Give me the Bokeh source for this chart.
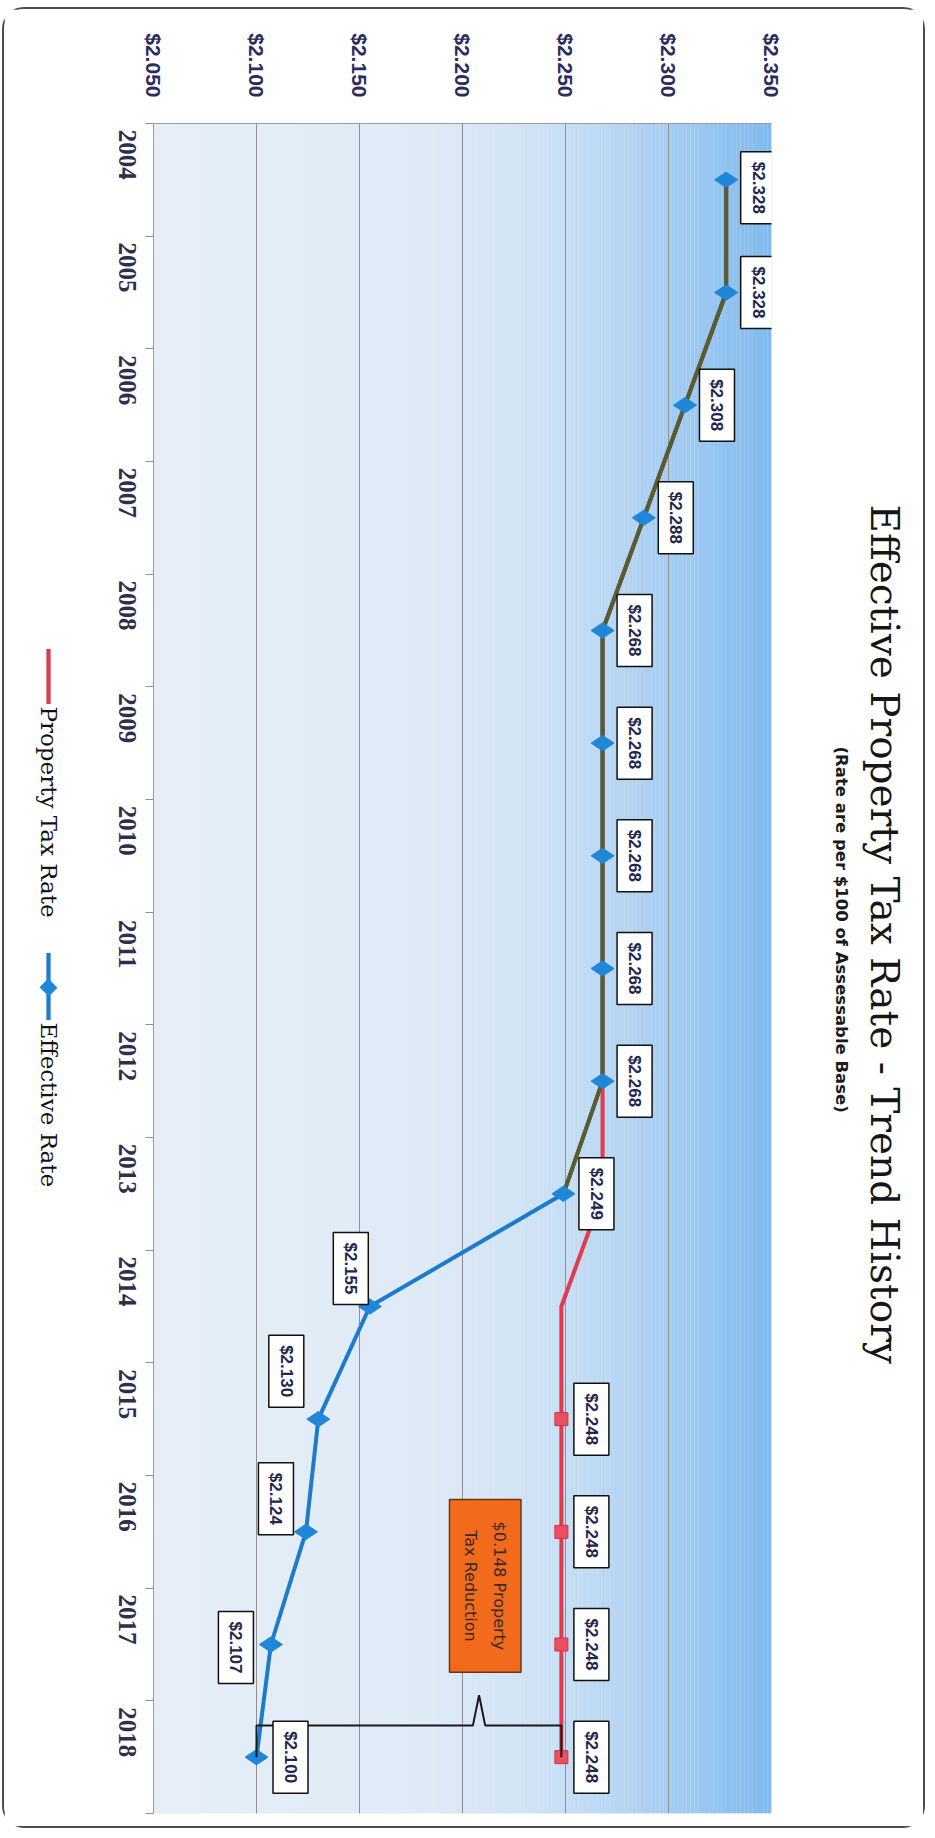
from math import pi

from bokeh.core.properties import value
from bokeh.embed import file_html
from bokeh.models import (ColumnDataSource, FixedTicker, Label,
                          NumeralTickFormatter, Range1d)
from bokeh.plotting import figure
from bokeh.resources import INLINE

# ---- data -------------------------------------------------------------
years = [2004, 2005, 2006, 2007, 2008, 2009, 2010, 2011, 2012, 2013,
         2014, 2015, 2016, 2017, 2018]
property_tax_rate = [2.328, 2.328, 2.308, 2.288, 2.268, 2.268, 2.268, 2.268,
                     2.268, 2.268, 2.248, 2.248, 2.248, 2.248, 2.248]
effective_rate = [2.328, 2.328, 2.308, 2.288, 2.268, 2.268, 2.268, 2.268,
                  2.268, 2.249, 2.155, 2.130, 2.124, 2.107, 2.100]
value_ticks = [2.05, 2.10, 2.15, 2.20, 2.25, 2.30, 2.35]
rate_marked_years = [2015, 2016, 2017, 2018]

# ---- styling ----------------------------------------------------------
BLUE = "#1d7bcd"
OLIVE = "#5d5c28"
RED = "#e23a4f"
NAVY = "#23254f"
olive_until = 2013
# label box offsets (screen px) from each point
eff_dx = [32, 32, 32, 32, 32, 32, 32, 32, 32, 33, -19, -32, -30, -35, 34]
eff_dy = [8, 0, 0, 0, 0, 0, 0, 0, 0, 0, -38, -48, -33, 3, 0]
rate_dx = 30

W, H = 923, 1821
p = figure(width=W, height=H, output_backend="svg", toolbar_location=None,
           x_range=Range1d(value_ticks[0], value_ticks[-1]),
           y_range=Range1d(years[-1] + 0.5, years[0] - 0.5),
           x_axis_location="above",
           min_border_left=149, min_border_right=156,
           min_border_top=114, min_border_bottom=17,
           styles={"border": "2px solid #4d4d4d", "border-radius": "22px",
                   "margin-left": "2px", "margin-top": "7px"})
p.outline_line_color = None
p.background_fill_color = "#e4eef8"
p.border_fill_color = "white"

# plot-area gradient, pale on the low side to sky blue on the high side
stops = [(0.0, (0xe6, 0xef, 0xf9)), (0.45, (0xde, 0xea, 0xf6)),
         (0.62, (0xcf, 0xe2, 0xf5)), (0.72, (0xbd, 0xd9, 0xf3)),
         (0.86, (0xa0, 0xca, 0xf1)), (1.0, (0x80, 0xba, 0xee))]


def lerp_color(t):
    for (t0, c0), (t1, c1) in zip(stops[:-1], stops[1:]):
        if t <= t1:
            f = (t - t0) / (t1 - t0)
            return "#%02x%02x%02x" % tuple(round(a + (b - a) * f) for a, b in zip(c0, c1))
    return "#%02x%02x%02x" % stops[-1][1]


n = 160
x0, x1 = value_ticks[0], value_ticks[-1]
step = (x1 - x0) / n
p.quad(left=[x0 + i * step for i in range(n)],
       right=[x0 + (i + 1.02) * step for i in range(n)],
       top=years[0] - 0.5, bottom=years[-1] + 0.5,
       fill_color=[lerp_color((i + 0.5) / n) for i in range(n)],
       line_color=None, level="image")

# grid and axes
p.xgrid.ticker = FixedTicker(ticks=value_ticks)
p.xgrid.grid_line_color = "#8f8f8f"
p.xgrid.grid_line_width = 1
p.ygrid.visible = False

xa = p.xaxis[0]
xa.ticker = FixedTicker(ticks=value_ticks)
xa.formatter = NumeralTickFormatter(format="$0.000")
xa.major_label_orientation = -pi / 2
xa.major_tick_line_color = None
xa.minor_tick_line_color = None
xa.major_tick_out = 0
xa.major_label_standoff = 26
xa.axis_line_color = "#9a9a9a"
xa.major_label_text_font = "Liberation Sans"
xa.major_label_text_font_size = "21px"
xa.major_label_text_font_style = "bold"
xa.major_label_text_color = "#2b2b5e"

ya = p.yaxis[0]
ya.ticker = FixedTicker(ticks=years,
                        minor_ticks=[years[0] - 0.5] + [y + 0.5 for y in years])
ya.major_label_orientation = -pi / 2
ya.major_tick_line_color = None
ya.major_tick_out = 0
ya.minor_tick_in = 0
ya.minor_tick_out = 8
ya.minor_tick_line_color = "#8f8f8f"
ya.axis_line_color = "#9a9a9a"
ya.major_label_standoff = 18
ya.major_label_text_font = "Liberation Serif"
ya.major_label_text_font_size = "25px"
ya.major_label_text_font_style = "bold"
ya.major_label_text_color = "#2e2e4e"

# ---- series -----------------------------------------------------------
p.line(property_tax_rate, years, line_color=RED, line_width=4)
p.line(effective_rate, years, line_color=BLUE, line_width=4)
k = years.index(olive_until) + 1
p.line(effective_rate[:k], years[:k], line_color=OLIVE, line_width=4)

rate_idx = [years.index(y) for y in rate_marked_years]
p.scatter([property_tax_rate[i] for i in rate_idx], rate_marked_years,
          marker="square", size=13, fill_color="#e8505f", line_color="#cf3346")
p.scatter(effective_rate, years, marker="diamond", size=23,
          angle=pi / 2, fill_color="#1f86d8", line_color="#1f86d8")

# reduction bracket between the final two values
y_last = years[-1]
lo, hi = effective_rate[-1], property_tax_rate[-1]
spike = lo + 0.73 * (hi - lo)
bk, bs, bd = 0.28, 0.27, 0.003
p.line([lo, lo, spike - bd, spike, spike + bd, hi, hi],
       [y_last, y_last - bk, y_last - bk, y_last - bk - bs, y_last - bk, y_last - bk, y_last],
       line_color="#1a1a1a", line_width=2)

# value labels
label_kw = dict(angle=-pi / 2, text_align="center", text_baseline="middle",
                text_font=value("Liberation Sans"), text_font_size="17px",
                text_font_style="bold", text_color=NAVY,
                background_fill_color="white", border_line_color="#111111",
                border_line_width=1.5, padding=(10, 8))
eff_src = ColumnDataSource(dict(x=effective_rate, y=years,
                                t=["$%.3f" % v for v in effective_rate],
                                dx=eff_dx, dy=eff_dy))
p.text(x="x", y="y", text="t", x_offset="dx", y_offset="dy", source=eff_src, **label_kw)
rate_src = ColumnDataSource(dict(x=[property_tax_rate[i] for i in rate_idx],
                                 y=rate_marked_years,
                                 t=["$%.3f" % property_tax_rate[i] for i in rate_idx]))
p.text(x="x", y="y", text="t", x_offset=rate_dx, source=rate_src, **label_kw)

# callout box
p.add_layout(Label(x=spike + 0.003, y=y_last - 1.52, angle=-pi / 2,
                   text="$%.3f Property\nTax Reduction" % (hi - lo),
                   text_align="center", text_baseline="middle",
                   text_font="DejaVu Sans", text_font_size="16px",
                   text_color="#3a2a1e", text_line_height=1.5,
                   background_fill_color="#f26b1d", border_line_color="#6e3510",
                   border_line_width=1.5, padding=(22, 12)))

# titles, reading down the right margin (canvas px)
p.add_layout(Label(x=835, y=735, x_units="canvas", y_units="canvas", angle=-pi / 2,
                   text="(Rate are per $100 of Assessable Base)",
                   text_align="left", text_baseline="middle",
                   text_font="DejaVu Sans", text_font_size="16.5px",
                   text_font_style="bold", text_color="#1a1a1a"), "right")
p.add_layout(Label(x=878, y=493, x_units="canvas", y_units="canvas", angle=-pi / 2,
                   text="Effective Property Tax Rate - Trend History",
                   text_align="left", text_baseline="middle",
                   text_font="DejaVu Serif", text_font_size="39px",
                   text_color="#161616"), "right")

# legend, drawn along the left margin (canvas px)
lg_x = 42
legend_marks = [
    Label(x=lg_x, y=665, x_units="canvas", y_units="canvas", text=" ",
          text_font_size="1px", text_align="center", text_baseline="middle",
          background_fill_color="#d8404f", padding=(2, 27)),
    Label(x=lg_x, y=695, x_units="canvas", y_units="canvas", angle=-pi / 2,
          text="Property Tax Rate", text_align="left", text_baseline="middle",
          text_font="DejaVu Serif", text_font_size="23px", text_color="#111111"),
    Label(x=lg_x, y=975, x_units="canvas", y_units="canvas", text=" ",
          text_font_size="1px", text_align="center", text_baseline="middle",
          background_fill_color=BLUE, padding=(2, 33)),
    Label(x=lg_x, y=976, x_units="canvas", y_units="canvas", text=" ", angle=pi / 4,
          text_font_size="1px", text_align="center", text_baseline="middle",
          background_fill_color="#1f86d8", padding=(6, 6)),
    Label(x=lg_x, y=1011, x_units="canvas", y_units="canvas", angle=-pi / 2,
          text="Effective Rate", text_align="left", text_baseline="middle",
          text_font="DejaVu Serif", text_font_size="23px", text_color="#111111"),
]
for mark in legend_marks:
    p.add_layout(mark, "left")

open("out.html", "w").write(file_html(p, INLINE))
